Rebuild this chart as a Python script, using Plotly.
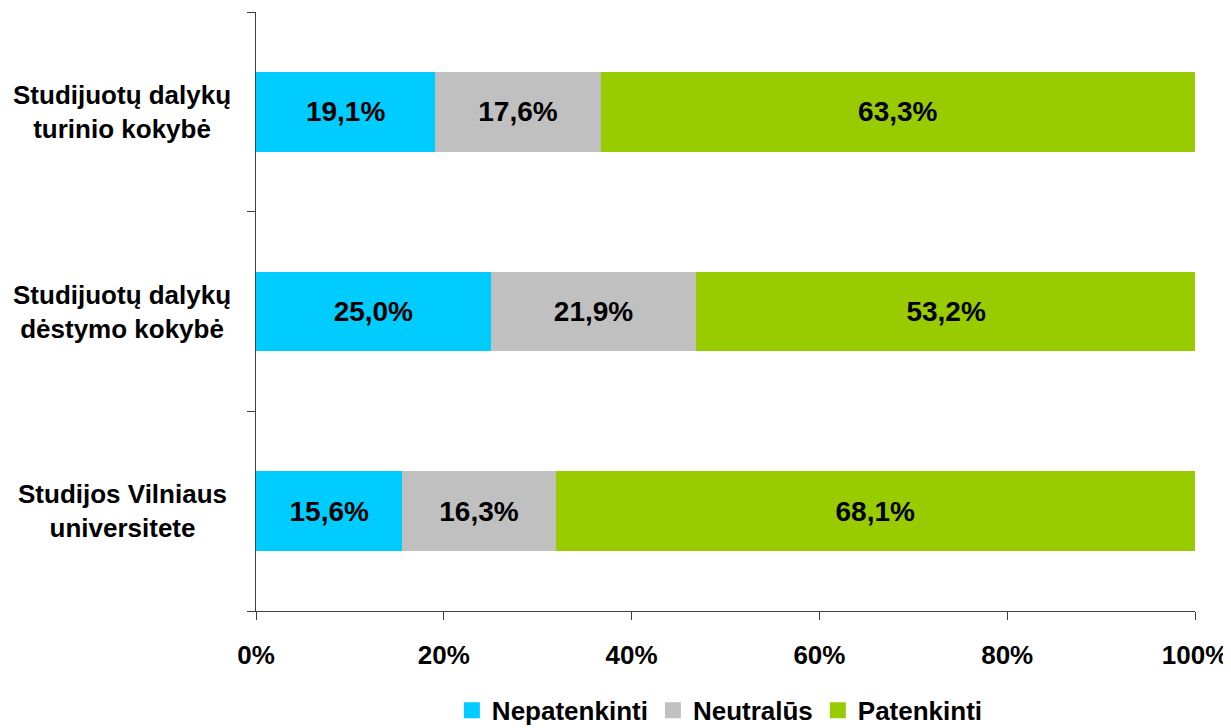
import plotly.graph_objects as go

categories = [
    "Studijos Vilniaus universitete",
    "Studijuotų dalykų dėstymo kokybė",
    "Studijuotų dalykų turinio kokybė",
]
category_labels = [
    "Studijos Vilniaus<br>universitete",
    "Studijuotų dalykų<br>dėstymo kokybė",
    "Studijuotų dalykų<br>turinio kokybė",
]
series_names = ["Nepatenkinti", "Neutralūs", "Patenkinti"]
nepatenkinti = [15.6, 25.0, 19.1]
neutralus = [16.3, 21.9, 17.6]
patenkinti = [68.1, 53.2, 63.3]
colors = ["#00CCFF", "#C0C0C0", "#99CC00"]
x_tickvals = [0, 20, 40, 60, 80, 100]
x_ticktext = ["0%", "20%", "40%", "60%", "80%", "100%"]

FONT = "Liberation Sans, Arial, sans-serif"

fig = go.Figure()
for name, vals, col in zip(series_names, [nepatenkinti, neutralus, patenkinti], colors):
    fig.add_trace(go.Bar(
        y=categories, x=vals, name=name, orientation="h",
        marker=dict(color=col, line=dict(width=0)),
        text=[f"{v:.1f}%".replace(".", ",") for v in vals],
        textposition="inside", insidetextanchor="middle",
        textfont=dict(family=FONT, size=28, color="black", weight="bold"),
        hoverinfo="skip", showlegend=False,
    ))
# legend entries with larger square swatches
for name, col in zip(series_names, colors):
    fig.add_trace(go.Scatter(
        x=[None], y=[None], mode="markers", name=name,
        marker=dict(symbol="square", size=18, color=col, line=dict(width=0)),
        hoverinfo="skip",
    ))

for cat, lab in zip(categories, category_labels):
    fig.add_annotation(
        x=-0.1427, xref="paper", y=cat, yref="y", text=lab, showarrow=False,
        xanchor="center", yanchor="middle", align="center",
        font=dict(family=FONT, size=26, color="black", weight="bold"),
    )

fig.update_layout(
    barmode="stack", bargap=0.6,
    width=1231, height=728,
    margin=dict(l=248, r=44, t=4, b=125, autoexpand=False),
    plot_bgcolor="white", paper_bgcolor="white",
    font=dict(family=FONT, size=26, color="black", weight="bold"),
    showlegend=True,
    legend=dict(
        orientation="h", x=0.494, xanchor="center", y=-0.166, yanchor="middle",
        font=dict(family=FONT, size=26, color="black", weight="bold"),
        traceorder="normal", itemclick=False, itemsizing="trace",
        tracegroupgap=0,
    ),
)
fig.update_xaxes(
    range=[0, 100], tickvals=x_tickvals, ticktext=x_ticktext,
    showgrid=False, zeroline=False, showline=True, linecolor="#404040", linewidth=1,
    ticks="outside", ticklen=8, tickcolor="#404040",
    tickfont=dict(family=FONT, size=26, color="black", weight="bold"),
    ticklabelstandoff=13, automargin=False,
)
fig.update_yaxes(
    categoryorder="array", categoryarray=categories, range=[-0.5, 2.5],
    showgrid=False, zeroline=False, showline=True, linecolor="#404040", linewidth=1,
    ticks="outside", ticklen=8, tickcolor="#404040", tickson="boundaries",
    showticklabels=False, automargin=False,
)

fig.write_html("out.html")
